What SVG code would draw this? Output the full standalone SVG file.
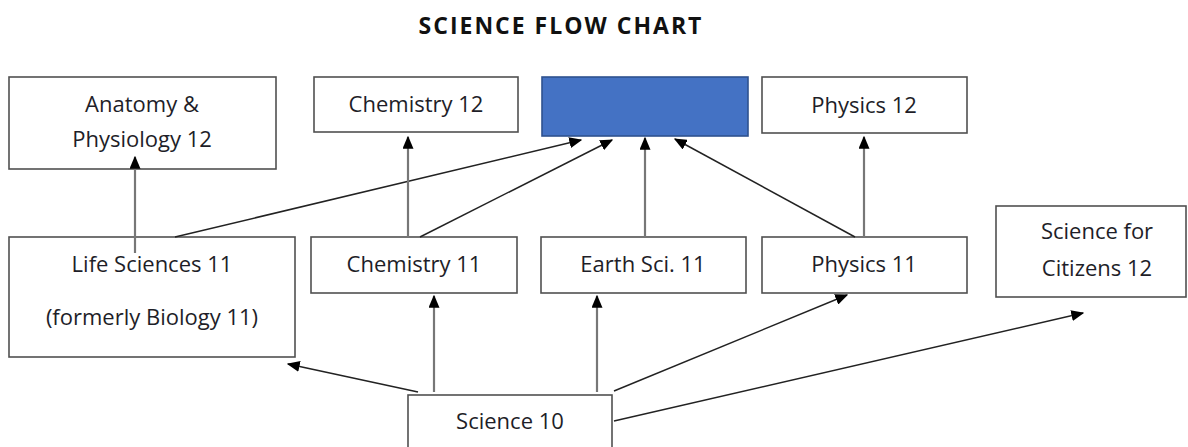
<svg xmlns="http://www.w3.org/2000/svg" width="1188" height="447" viewBox="0 0 1188 447">
<style>
.box{fill:#fff;stroke:#505050;stroke-width:1.6}
.t{font-family:"Open Sans","Liberation Sans",sans-serif;font-size:22px;fill:#1e1e28;text-anchor:middle}
.title{font-family:"Open Sans","Liberation Sans",sans-serif;font-size:23px;font-weight:bold;fill:#111;text-anchor:middle;letter-spacing:2px}
.c{stroke:#222;stroke-width:1.5;fill:none;marker-end:url(#ah)}
.v{stroke:#777;stroke-width:2.2;fill:none;marker-end:url(#ah)}
</style>
<defs>
<marker id="ah" viewBox="0 0 10 10" refX="9" refY="5" markerWidth="13" markerHeight="11" markerUnits="userSpaceOnUse" orient="auto" preserveAspectRatio="none">
<path d="M0,0 L10,5 L0,10 z" fill="#000"/>
</marker>
</defs>
<rect width="1188" height="447" fill="#fff"/>
<text class="title" x="561" y="34">SCIENCE FLOW CHART</text>
<g id="anatomy12"><rect class="box" x="9" y="77" width="267" height="92"/><text class="t" x="142" y="112">Anatomy &amp;</text><text class="t" x="142" y="147">Physiology 12</text></g>
<g id="chemistry12"><rect class="box" x="314" y="77" width="204" height="55"/><text class="t" x="416" y="112">Chemistry 12</text></g>
<g id="blank12"><rect x="542" y="77" width="206" height="59" fill="#4472C4" stroke="#2F528F" stroke-width="1.6"/></g>
<g id="physics12"><rect class="box" x="762" y="77" width="205" height="56"/><text class="t" x="864" y="113">Physics 12</text></g>
<g id="lifesciences11"><rect class="box" x="9" y="237" width="286" height="120"/><text class="t" x="152" y="272">Life Sciences 11</text><text class="t" x="152" y="325">(formerly Biology 11)</text></g>
<g id="chemistry11"><rect class="box" x="311" y="237" width="206" height="56"/><text class="t" x="414" y="272">Chemistry 11</text></g>
<g id="earthsci11"><rect class="box" x="541" y="237" width="205" height="56"/><text class="t" x="643" y="272">Earth Sci. 11</text></g>
<g id="physics11"><rect class="box" x="762" y="237" width="205" height="56"/><text class="t" x="864" y="272">Physics 11</text></g>
<g id="citizens12"><rect class="box" x="996" y="206" width="190" height="91"/><text class="t" x="1097" y="239">Science for</text><text class="t" x="1097" y="276">Citizens 12</text></g>
<g id="science10"><rect class="box" x="408" y="395" width="204" height="60"/><text class="t" x="510" y="429">Science 10</text></g>
<g id="connectors">
<line class="v" x1="135" y1="253" x2="135" y2="157"/>
<line class="c" x1="175" y1="237" x2="581" y2="140"/>
<line class="v" x1="408" y1="237" x2="408" y2="137"/>
<line class="c" x1="420" y1="237" x2="612" y2="140"/>
<line class="v" x1="645" y1="237" x2="645" y2="138"/>
<line class="c" x1="855" y1="237" x2="675" y2="139"/>
<line class="v" x1="864" y1="237" x2="864" y2="137"/>
<line class="v" x1="434" y1="392" x2="434" y2="296"/>
<line class="v" x1="597" y1="392" x2="597" y2="296"/>
<line class="c" x1="418" y1="392" x2="288" y2="364"/>
<line class="c" x1="614" y1="391" x2="847" y2="295"/>
<line class="c" x1="614" y1="421" x2="1083" y2="313"/>
</g>
</svg>
